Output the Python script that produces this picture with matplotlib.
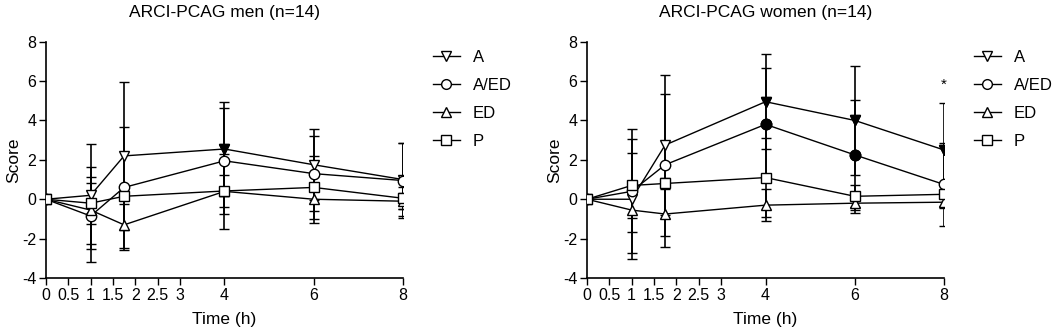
import matplotlib
matplotlib.use("Agg")
import matplotlib.pyplot as plt
from matplotlib.lines import Line2D

plt.rcParams['font.family'] = ['Liberation Sans', 'DejaVu Sans']
plt.rcParams['axes.unicode_minus'] = False

# Data
times = [0, 1, 1.75, 4, 6, 8]
series_names = ['A', 'A/ED', 'ED', 'P']
series_markers = ['v', 'o', '^', 's']

men_A = [0, 0.2, 2.2, 2.55, 1.75, 1.0]
men_A_err = [0, 1.45, 3.75, 2.4, 1.8, 1.85]
men_AED = [0, -0.85, 0.6, 1.95, 1.3, 0.95]
men_AED_err = [0, 1.65, 3.05, 2.7, 1.9, 1.9]
men_ED = [0, -0.55, -1.3, 0.4, 0.0, -0.1]
men_ED_err = [0, 1.7, 1.3, 1.9, 1.2, 0.4]
men_P = [0, -0.2, 0.15, 0.42, 0.6, 0.05]
men_P_err = [0, 3.0, 0.4, 0.8, 1.6, 0.55]

women_A = [0, 0.0, 2.75, 4.95, 4.0, 2.5]
women_A_err = [0, 3.05, 3.55, 2.4, 2.75, 2.4]
women_AED = [0, 0.4, 1.75, 3.8, 2.25, 0.75]
women_AED_err = [0, 3.15, 3.6, 2.85, 2.8, 2.1]
women_ED = [0, -0.55, -0.75, -0.3, -0.2, -0.15]
women_ED_err = [0, 1.1, 1.65, 0.8, 0.5, 0.3]
women_P = [0, 0.7, 0.8, 1.1, 0.15, 0.25]
women_P_err = [0, 1.65, 0.3, 2.0, 0.55, 0.6]

# indices of significant (filled) points per series
men_filled = [[3], [], [], []]
women_filled = [[3, 4, 5], [3, 4], [], []]
women_star = (8, 5.8)

xticks = [0, 0.5, 1, 1.5, 2, 2.5, 3, 4, 6, 8]
xticklabels = ['0', '0.5', '1', '1.5', '2', '2.5', '3', '4', '6', '8']
yticks = [-4, -2, 0, 2, 4, 6, 8]

panels = [
    ('ARCI-PCAG men (n=14)', [men_A, men_AED, men_ED, men_P],
     [men_A_err, men_AED_err, men_ED_err, men_P_err], men_filled, None),
    ('ARCI-PCAG women (n=14)', [women_A, women_AED, women_ED, women_P],
     [women_A_err, women_AED_err, women_ED_err, women_P_err], women_filled, women_star),
]

fig = plt.figure(figsize=(10.52, 3.33), dpi=100)
lefts = [0.0437, 0.558]

for left, (title, ys, errs, filled, star) in zip(lefts, panels):
    ax = fig.add_axes((left, 0.165, 0.3394, 0.710))
    for name, mk, y, e, fidx in zip(series_names, series_markers, ys, errs, filled):
        ax.errorbar(times, y, yerr=e, color='black', marker=mk, markersize=7.5,
                    markerfacecolor='white', markeredgecolor='black', markeredgewidth=1,
                    linewidth=1, elinewidth=1.2, capsize=3.5, capthick=1.2, zorder=3)
        if fidx:
            ax.plot([times[i] for i in fidx], [y[i] for i in fidx], linestyle='none',
                    marker=mk, markersize=7.5, color='black', zorder=4)
    if star:
        ax.text(star[0], star[1], '*', ha='center', va='center', fontsize=11)

    ax.set_xlim(0, 8)
    ax.set_ylim(-4, 8)
    ax.set_xticks(xticks, labels=xticklabels, fontsize=11.5)
    ax.set_yticks(yticks, labels=[str(v) for v in yticks], fontsize=11.5)
    ax.tick_params(direction='out', length=5, width=1, pad=2)
    for s in ['top', 'right']:
        ax.spines[s].set_visible(False)
    for s in ['left', 'bottom']:
        ax.spines[s].set_linewidth(1.2)
    ax.set_xlabel('Time (h)', fontsize=12.5, va='center')
    ax.xaxis.set_label_coords(0.5, -0.175)
    ax.set_ylabel('Score', fontsize=12.5, va='center')
    ax.yaxis.set_label_coords(-0.09, 0.5)
    ax.text(0.5, 1.125, title, transform=ax.transAxes, ha='center', va='center', fontsize=12.5)

    handles = [Line2D([], [], color='black', linewidth=1, marker=mk, markersize=7,
                      markerfacecolor='white', markeredgecolor='black')
               for mk in series_markers]
    ax.legend(handles, series_names, loc='upper left', bbox_to_anchor=(1.084, 0.965),
              frameon=False, fontsize=12, handlelength=1.6, handletextpad=0.8,
              labelspacing=0.78, borderpad=0, borderaxespad=0)

fig.savefig('out.png', dpi=100)
